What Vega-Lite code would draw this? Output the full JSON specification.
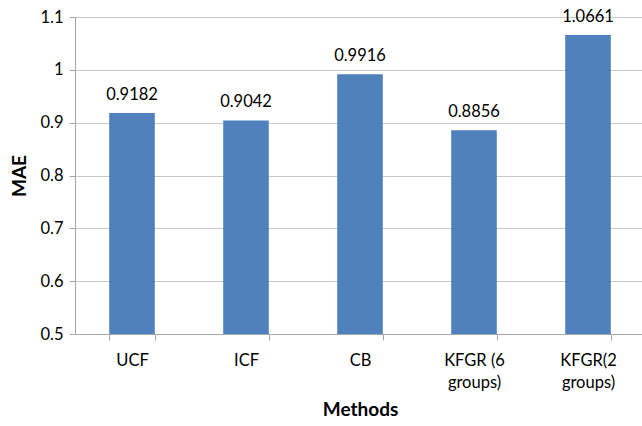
{
  "$schema": "https://vega.github.io/schema/vega-lite/v6.json",
  "autosize": "none",
  "width": 570,
  "height": 317,
  "padding": {"left": 75, "top": 17, "right": 0, "bottom": 92},
  "background": "white",
  "config": {
    "font": "Lato",
    "view": {"stroke": null},
    "axis": {
      "labelFont": "Lato",
      "labelFontSize": 16.5,
      "labelColor": "#000000",
      "titleFont": "Lato",
      "titleFontSize": 19,
      "titleFontWeight": "bold",
      "titleColor": "#000000",
      "domainColor": "#A6A6A6",
      "tickColor": "#A6A6A6",
      "gridColor": "#C8C8C8"
    }
  },
  "data": {
    "values": [
      {"method": "UCF", "mae": 0.9182},
      {"method": "ICF", "mae": 0.9042},
      {"method": "CB", "mae": 0.9916},
      {"method": "KFGR (6 groups)", "mae": 0.8856},
      {"method": "KFGR(2 groups)", "mae": 1.0661}
    ]
  },
  "encoding": {
    "x": {
      "field": "method",
      "type": "nominal",
      "sort": null,
      "scale": {"paddingInner": 0.6, "paddingOuter": 0.3},
      "axis": {
        "title": "Methods",
        "titlePadding": 10,
        "labelAngle": 0,
        "labelPadding": 12,
        "labelLineHeight": 22,
        "tickSize": 6,
        "tickBand": "extent",
        "grid": false,
        "labelExpr": "indexof(datum.label, ' groups') > 0 ? [slice(datum.label, 0, indexof(datum.label, ' groups')), 'groups)'] : datum.label"
      }
    },
    "y": {
      "field": "mae",
      "type": "quantitative",
      "scale": {"domain": [0.5, 1.1], "nice": false, "zero": false},
      "axis": {
        "title": "MAE",
        "values": [0.5, 0.6, 0.7, 0.8, 0.9, 1.0, 1.1],
        "labelExpr": "format(datum.value, '.1~f')",
        "tickSize": 6,
        "labelPadding": 6,
        "titlePadding": 10,
        "grid": true
      }
    }
  },
  "layer": [
    {"mark": {"type": "bar", "color": "#4F81BD", "clip": true}},
    {
      "mark": {"type": "text", "dy": -13, "baseline": "alphabetic", "fontSize": 16.5, "font": "Lato", "color": "#000000"},
      "encoding": {"text": {"field": "mae", "type": "quantitative", "format": ".4f"}}
    }
  ]
}
